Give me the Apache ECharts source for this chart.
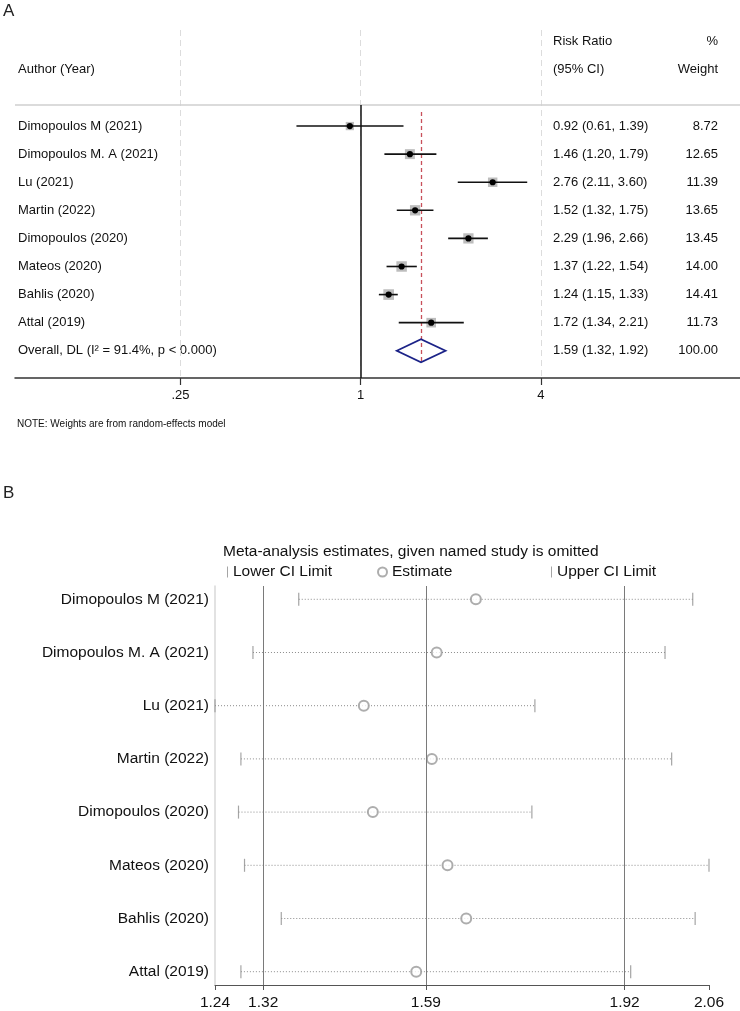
<!DOCTYPE html>
<html>
<head>
<meta charset="utf-8">
<script src="https://cdn.jsdelivr.net/npm/echarts@6/dist/echarts.min.js"></script>
<style>
  html, body { margin: 0; padding: 0; background: #fff; }
  #main { width: 740px; height: 1011px; }
</style>
</head>
<body>
<div id="main"></div>
<script>
// 研究名称（A、B 两图共用）
const studies = ['Dimopoulos M (2021)', 'Dimopoulos M. A (2021)', 'Lu (2021)', 'Martin (2022)',
  'Dimopoulos (2020)', 'Mateos (2020)', 'Bahlis (2020)', 'Attal (2019)'];

// A：森林图 Risk Ratio (95% CI) 与权重
const rr = [0.92, 1.46, 2.76, 1.52, 2.29, 1.37, 1.24, 1.72];
const rrLow = [0.61, 1.20, 2.11, 1.32, 1.96, 1.22, 1.15, 1.34];
const rrHigh = [1.39, 1.79, 3.60, 1.75, 2.66, 1.54, 1.33, 2.21];
const weights = [8.72, 12.65, 11.39, 13.65, 13.45, 14.00, 14.41, 11.73];
const overallRR = 1.59;
const overallLow = 1.32;
const overallHigh = 1.92;
const overallWeight = 100.00;
const overallLabel = 'Overall, DL (I² = 91.4%, p < 0.000)';
const ticksA = [0.25, 1, 4];
const tickLabelsA = ['.25', '1', '4'];

// B：逐一剔除后的合并估计
const omitLow = [1.379, 1.303, 1.24, 1.283, 1.279, 1.289, 1.350, 1.283];
const omitEst = [1.673, 1.608, 1.487, 1.600, 1.502, 1.626, 1.657, 1.574];
const omitHigh = [2.033, 1.987, 1.771, 1.998, 1.766, 2.06, 2.037, 1.930];
const ticksB = [1.24, 1.32, 1.59, 1.92, 2.06];
const refLinesB = [1.32, 1.59, 1.92];

const FONT = '"Liberation Sans", Arial, Helvetica, sans-serif';
const chart = echarts.init(document.getElementById('main'), null, { renderer: 'canvas' });

const overallRow = studies.length;
const rowsA = studies.map((s, i) => i).concat([overallRow]);

// 表格各列文字
const colLeft = {}, colCI = {}, colW = {};
colLeft[-2] = 'Author (Year)';
colCI[-3] = 'Risk Ratio'; colCI[-2] = '(95% CI)';
colW[-3] = '%'; colW[-2] = 'Weight';
studies.forEach((s, i) => {
  colLeft[i] = s;
  colCI[i] = rr[i].toFixed(2) + ' (' + rrLow[i].toFixed(2) + ', ' + rrHigh[i].toFixed(2) + ')';
  colW[i] = weights[i].toFixed(2);
});
colLeft[overallRow] = overallLabel;
colCI[overallRow] = overallRR.toFixed(2) + ' (' + overallLow.toFixed(2) + ', ' + overallHigh.toFixed(2) + ')';
colW[overallRow] = overallWeight.toFixed(2);

function lookup(obj, v) {
  const k = Math.round(v);
  return obj[k] !== undefined ? obj[k] : '';
}

const yBaseA = {
  type: 'value', gridIndex: 0, inverse: true, min: -3.42, max: 8.97,
  axisLine: { show: false }, axisTick: { show: false }, splitLine: { show: false }
};
const labelStyleA = { fontSize: 13, color: '#111', fontFamily: FONT };
const legendText = { fontSize: 15.5, color: '#111', fontFamily: FONT };

const option = {
  animation: false,
  backgroundColor: '#fff',
  textStyle: { fontFamily: FONT },
  grid: [
    { left: 15, right: 0, top: 30, bottom: 633 },
    { left: 215, right: 31, top: 586, bottom: 25 }
  ],
  legend: [
    { data: ['Lower CI Limit'], left: 227, top: 564, padding: 0, icon: 'rect', itemWidth: 1, itemHeight: 11, selectedMode: false, textStyle: legendText },
    { data: ['Estimate'], left: 377, top: 564, padding: 0, icon: 'emptyCircle', itemWidth: 9, itemHeight: 9, selectedMode: false, textStyle: legendText },
    { data: ['Upper CI Limit'], left: 551, top: 564, padding: 0, icon: 'rect', itemWidth: 1, itemHeight: 11, selectedMode: false, textStyle: legendText }
  ],
  xAxis: [
    {
      type: 'log', logBase: 4, gridIndex: 0, min: 0.07, max: 18.5,
      axisLine: { onZero: false, lineStyle: { color: '#333', width: 1.5 } },
      axisTick: { customValues: ticksA, length: 7, lineStyle: { color: '#333', width: 1.2 } },
      axisLabel: {
        customValues: ticksA, margin: 11, fontSize: 13, color: '#111', fontFamily: FONT,
        formatter: v => {
          const i = ticksA.findIndex(t => Math.abs(t - v) < 1e-6);
          return i >= 0 ? tickLabelsA[i] : '';
        }
      },
      splitLine: { show: false }
    },
    {
      type: 'value', gridIndex: 1, min: 1.24, max: 2.06,
      axisLine: { onZero: false, lineStyle: { color: '#555', width: 1 } },
      axisTick: { customValues: ticksB, length: 5, lineStyle: { color: '#555' } },
      axisLabel: {
        customValues: ticksB, margin: 10, fontSize: 15.5, color: '#111', fontFamily: FONT,
        formatter: v => v.toFixed(2)
      },
      splitLine: { show: false }
    }
  ],
  yAxis: [
    Object.assign({}, yBaseA, {
      position: 'left',
      axisLabel: Object.assign({}, labelStyleA, {
        customValues: [-2].concat(rowsA), align: 'left', margin: -3,
        formatter: v => lookup(colLeft, v)
      })
    }),
    Object.assign({}, yBaseA, {
      position: 'right', offset: 0,
      axisLabel: Object.assign({}, labelStyleA, {
        customValues: [-3, -2].concat(rowsA), align: 'left', margin: -187,
        formatter: v => lookup(colCI, v)
      })
    }),
    Object.assign({}, yBaseA, {
      position: 'right', offset: 0,
      axisLabel: Object.assign({}, labelStyleA, {
        customValues: [-3, -2].concat(rowsA), align: 'right', margin: -22,
        formatter: v => lookup(colW, v)
      })
    }),
    {
      type: 'value', gridIndex: 1, inverse: true, min: -0.25, max: 7.25,
      axisLine: { show: true, onZero: false, lineStyle: { color: '#d9d9d9', width: 1.5 } },
      axisTick: { show: false }, splitLine: { show: false },
      axisLabel: {
        customValues: studies.map((s, i) => i), margin: 6, fontSize: 15.5, color: '#111', fontFamily: FONT,
        formatter: v => lookup(studies, v)
      }
    }
  ],
  graphic: [
    { type: 'text', x: 3, y: 11, style: { text: 'A', font: '17px ' + FONT, fill: '#222', verticalAlign: 'middle' } },
    { type: 'text', x: 17, y: 424, style: { text: 'NOTE: Weights are from random-effects model', font: '10px ' + FONT, fill: '#111', verticalAlign: 'middle' } },
    { type: 'text', x: 3, y: 493, style: { text: 'B', font: '17px ' + FONT, fill: '#222', verticalAlign: 'middle' } },
    { type: 'text', x: 223, y: 551.5, style: { text: 'Meta-analysis estimates, given named study is omitted', font: '15.5px ' + FONT, fill: '#111', verticalAlign: 'middle' } }
  ],
  series: [
    // A：各研究的方块、置信区间与点估计
    {
      type: 'custom', name: 'studiesA', xAxisIndex: 0, yAxisIndex: 0, z: 5,
      data: studies.map((s, i) => [rr[i], i, rrLow[i], rrHigh[i], weights[i]]),
      encode: { x: [0, 2, 3], y: 1 },
      renderItem: (params, api) => {
        const y = api.value(1);
        const c = api.coord([api.value(0), y]);
        const lo = api.coord([api.value(2), y]);
        const hi = api.coord([api.value(3), y]);
        const side = 2.8 * Math.sqrt(api.value(4));
        return {
          type: 'group',
          children: [
            { type: 'rect', shape: { x: c[0] - side / 2, y: c[1] - side / 2, width: side, height: side }, style: { fill: '#bdbdbd' } },
            { type: 'line', shape: { x1: lo[0], y1: lo[1], x2: hi[0], y2: hi[1] }, style: { stroke: '#111', lineWidth: 1.6 } },
            { type: 'circle', shape: { cx: c[0], cy: c[1], r: 3.1 }, style: { fill: '#000' } }
          ]
        };
      }
    },
    // A：合并效应菱形 + 参考线
    {
      type: 'custom', name: 'overallA', xAxisIndex: 0, yAxisIndex: 0, z: 5,
      data: [[overallRR, overallRow, overallLow, overallHigh]],
      encode: { x: [0, 2, 3], y: 1 },
      renderItem: (params, api) => {
        const y = api.value(1);
        const c = api.coord([api.value(0), y]);
        const lo = api.coord([api.value(2), y]);
        const hi = api.coord([api.value(3), y]);
        const h = 11.5;
        return {
          type: 'polygon',
          shape: { points: [[lo[0], c[1]], [c[0], c[1] - h], [hi[0], c[1]], [c[0], c[1] + h]] },
          style: { fill: 'none', stroke: '#1c2388', lineWidth: 1.8 }
        };
      },
      markLine: {
        silent: true, symbol: ['none', 'none'], label: { show: false }, animation: false,
        data: ticksA.map(v => ({ xAxis: v, lineStyle: { color: '#dcdcdc', type: [6, 4], width: 1 } })).concat([
          { yAxis: -0.75, lineStyle: { color: '#cfcfcf', type: 'solid', width: 1.5 } },
          [{ coord: [1, -0.75], lineStyle: { color: '#111', type: 'solid', width: 1.5 } }, { coord: [1, 8.97] }],
          [{ coord: [overallRR, -0.5], lineStyle: { color: '#c8505a', type: [4, 3], width: 1.3 } }, { coord: [overallRR, 8.41] }]
        ])
      }
    },
    // B：虚线区间
    {
      type: 'custom', name: 'rangeB', xAxisIndex: 1, yAxisIndex: 3, z: 3,
      data: studies.map((s, i) => [omitLow[i], i, omitHigh[i]]),
      encode: { x: [0, 2], y: 1 },
      renderItem: (params, api) => {
        const y = api.value(1);
        const lo = api.coord([api.value(0), y]);
        const hi = api.coord([api.value(2), y]);
        return {
          type: 'line',
          shape: { x1: lo[0], y1: lo[1], x2: hi[0], y2: hi[1] },
          style: { stroke: '#8c8c8c', lineWidth: 1, lineDash: [1, 2] }
        };
      },
      markLine: {
        silent: true, symbol: ['none', 'none'], label: { show: false }, animation: false,
        lineStyle: { color: '#7a7a7a', type: 'solid', width: 1 },
        data: refLinesB.map(v => ({ xAxis: v }))
      }
    },
    {
      type: 'scatter', name: 'Lower CI Limit', xAxisIndex: 1, yAxisIndex: 3, z: 4,
      symbol: 'rect', symbolSize: [1.2, 13],
      itemStyle: { color: '#8e8e8e' },
      data: omitLow.map((v, i) => [v, i])
    },
    {
      type: 'scatter', name: 'Estimate', xAxisIndex: 1, yAxisIndex: 3, z: 4,
      symbol: 'emptyCircle', symbolSize: 10,
      itemStyle: { color: '#999', borderWidth: 0.9 },
      data: omitEst.map((v, i) => [v, i])
    },
    {
      type: 'scatter', name: 'Upper CI Limit', xAxisIndex: 1, yAxisIndex: 3, z: 4,
      symbol: 'rect', symbolSize: [1.2, 13],
      itemStyle: { color: '#8e8e8e' },
      data: omitHigh.map((v, i) => [v, i])
    }
  ]
};

chart.setOption(option);
</script>
</body>
</html>
